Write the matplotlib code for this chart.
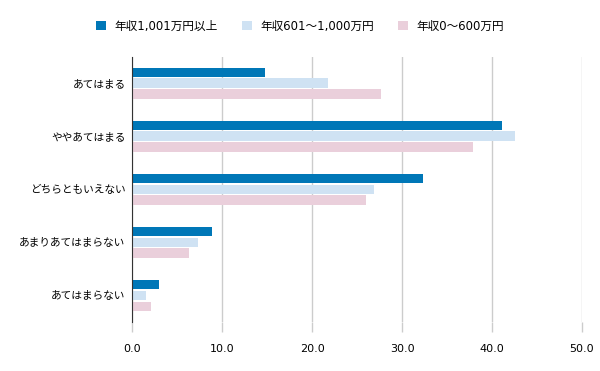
import matplotlib
matplotlib.use("Agg")
import matplotlib.pyplot as plt
import numpy as np

plt.rcParams['font.family'] = ['Noto Sans CJK JP', 'DejaVu Sans']

categories = ["あてはまる", "ややあてはまる", "どちらともいえない", "あまりあてはまらない", "あてはまらない"]
series_names = ["年収1,001万円以上", "年収601～1,000万円", "年収0～600万円"]
high = [14.7, 41.1, 32.3, 8.8, 2.9]
mid = [21.8, 42.6, 26.9, 7.3, 1.5]
low = [27.6, 37.9, 26.0, 6.3, 2.1]
xticks = [0, 10, 20, 30, 40, 50]
colors = ["#0077b7", "#cfe2f3", "#eacfdb"]

fig = plt.figure(figsize=(6, 3.71), dpi=100)
ax = fig.add_axes([0.2208, 0.1334, 0.7492, 0.7143])

y = np.arange(len(categories))
step = 0.2075
h = 0.17
for i, (vals, name, c) in enumerate(zip([high, mid, low], series_names, colors)):
    ax.barh(y + (i - 1) * step, vals, height=h, color=c, label=name, zorder=3)

ax.set_ylim(len(categories) - 0.5, -0.5)
ax.set_xlim(0, 50)
ax.set_xticks(xticks)
ax.set_xticklabels([f"{t:.1f}" for t in xticks], fontsize=8, family=['DejaVu Sans'])
ax.set_yticks(y)
ax.set_yticklabels(categories, fontsize=7.7)
ax.tick_params(axis='y', length=0, pad=5)
ax.tick_params(axis='x', length=7, width=1, color="#cccccc", pad=9)
ax.xaxis.get_major_ticks()[0].tick1line.set_color("#333333")
ax.grid(axis='x', color="#cccccc", linewidth=1, zorder=0)
for s in ["top", "right", "bottom"]:
    ax.spines[s].set_visible(False)
ax.spines["left"].set_color("#333333")
ax.spines["left"].set_zorder(4)

fig.legend(loc="upper center", bbox_to_anchor=(0.5, 0.975), ncol=3, frameon=False,
           prop={'family': ['DejaVu Sans', 'Noto Sans CJK JP'], 'size': 8.4},
           handlelength=0.85, handleheight=0.85, columnspacing=2.1, handletextpad=0.7)

fig.savefig("out.png", dpi=100)
